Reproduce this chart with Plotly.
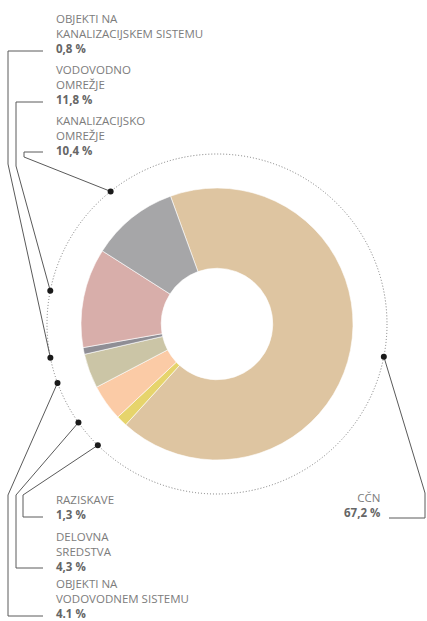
import math
import plotly.graph_objects as go

# ---- data ----
categories = ["CČN", "RAZISKAVE", "DELOVNA SREDSTVA", "OBJEKTI NA VODOVODNEM SISTEMU",
              "OBJEKTI NA KANALIZACIJSKEM SISTEMU", "VODOVODNO OMREŽJE", "KANALIZACIJSKO OMREŽJE"]
values = [67.2, 1.3, 4.3, 4.1, 0.8, 11.8, 10.4]
label_lines = [["CČN"], ["RAZISKAVE"], ["DELOVNA", "SREDSTVA"], ["OBJEKTI NA", "VODOVODNEM SISTEMU"],
               ["OBJEKTI NA", "KANALIZACIJSKEM SISTEMU"], ["VODOVODNO", "OMREŽJE"],
               ["KANALIZACIJSKO", "OMREŽJE"]]
value_labels = ["67,2 %", "1,3 %", "4,3 %", "4.1 %", "0,8 %", "11,8 %", "10,4 %"]

# ---- style / layout ----
colors = ["#DEC5A1", "#E6D46C", "#FBCBA6", "#CBC5A6", "#8F8E95", "#D8AEAA", "#A6A6A8"]
W, H = 427, 621
CX, CY, R_PIE, R_RING = 217, 324, 136, 170
ROTATION = -20
HOLE = 0.41
LINE_COLOR = "#5a5a5a"
TEXT_COLOR = "#7c7c7c"
PCT_COLOR = "#666666"
FONT = "Open Sans"
FS = 11.5
LH = 13.5

# label block: (x, y of top line centre, align)
label_pos = [
    (381, 498, "right"),
    (55, 500, "left"),
    (55, 538, "left"),
    (55, 585, "left"),
    (55, 20, "left"),
    (55, 71, "left"),
    (55, 122, "left"),
]
# leader elbows (from label side toward the dot)
leader_elbows = [
    [(389, 518), (425, 518), (425, 493)],
    [(43, 517), (23, 517), (23, 495)],
    [(43, 568), (16, 568), (16, 495)],
    [(43, 616), (8, 616), (8, 495)],
    [(43, 51), (8, 51), (8, 164)],
    [(43, 102), (16, 102), (16, 166)],
    [(43, 152), (24, 152), (24, 157)],
]

fig = go.Figure()

# donut
fig.add_trace(go.Pie(
    labels=categories, values=values, sort=False, direction="clockwise",
    rotation=ROTATION, hole=HOLE, textinfo="none", hoverinfo="label+percent",
    marker=dict(colors=colors, line=dict(color="white", width=0.6)),
    domain=dict(x=[(CX - R_PIE) / W, (CX + R_PIE) / W],
                y=[1 - (CY + R_PIE) / H, 1 - (CY - R_PIE) / H]),
    showlegend=False,
))

# dot positions from slice mid-angles
total = sum(values)
cum = 0.0
dots = []
for v in values:
    mid = ROTATION + (cum + v / 2) / total * 360
    a = math.radians(mid)
    dots.append((CX + R_RING * math.sin(a), CY - R_RING * math.cos(a)))
    cum += v

# leader lines
for elbows, d in zip(leader_elbows, dots):
    pts = elbows + [d]
    fig.add_trace(go.Scatter(x=[p[0] for p in pts], y=[p[1] for p in pts], mode="lines",
                             line=dict(color=LINE_COLOR, width=1), hoverinfo="skip",
                             showlegend=False))
fig.add_trace(go.Scatter(x=[d[0] for d in dots], y=[d[1] for d in dots], mode="markers",
                         marker=dict(color="#1a1a1a", size=6), hoverinfo="skip",
                         showlegend=False))

# dotted ring
fig.add_shape(type="circle", xref="x", yref="y", x0=CX - R_RING, x1=CX + R_RING,
              y0=CY - R_RING, y1=CY + R_RING,
              line=dict(color="#7a7a7a", width=1, dash="1px,2px"), layer="below")

# labels (one text block per category)
for (x, y, al), lines, pct in zip(label_pos, label_lines, value_labels):
    n = len(lines) + 1
    text = "<br>".join(lines) + "<br><span style='color:%s'><b>%s</b></span>" % (PCT_COLOR, pct)
    fig.add_annotation(x=x, y=y + (n - 1) * LH / 2, text=text, showarrow=False,
                       xref="x", yref="y", xanchor=al, yanchor="middle", align=al,
                       borderpad=0,
                       font=dict(family=FONT, size=FS, color=TEXT_COLOR))

fig.update_layout(
    width=W, height=H, margin=dict(l=0, r=0, t=0, b=0),
    paper_bgcolor="white", plot_bgcolor="white",
    xaxis=dict(range=[0, W], visible=False, fixedrange=True),
    yaxis=dict(range=[H, 0], visible=False, fixedrange=True),
)

fig.write_html("out.html", post_script="document.body.style.margin='0px';",
               config={"displayModeBar": False})
